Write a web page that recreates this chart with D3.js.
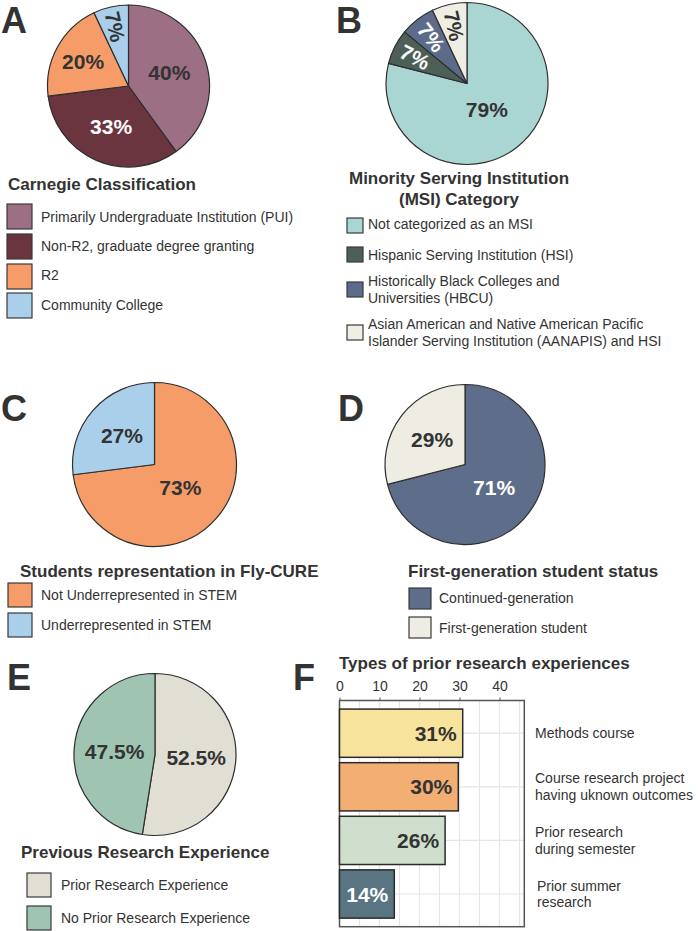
<!DOCTYPE html>
<html>
<head>
<meta charset="utf-8">
<script src="https://cdn.jsdelivr.net/npm/d3@7"></script>
<style>
  html, body { margin: 0; padding: 0; background: #ffffff; }
  svg { display: block; font-family: "Liberation Sans", Arial, Helvetica, sans-serif; }
</style>
</head>
<body>
<svg id="chart" width="699" height="931"></svg>
<script>
// ---------------- DATA ----------------
const carnegieCategories = ["Primarily Undergraduate Institution (PUI)", "Non-R2, graduate degree granting", "R2", "Community College"];
const carnegieValues = [40, 33, 20, 7];
const carnegieLabels = ["40%", "33%", "20%", "7%"];

const msiCategories = [["Not categorized as an MSI"], ["Hispanic Serving Institution (HSI)"], ["Historically Black Colleges and", "Universities (HBCU)"], ["Asian American and Native American Pacific", "Islander Serving Institution (AANAPIS) and HSI"]];
const msiValues = [79, 7, 7, 7];
const msiLabels = ["79%", "7%", "7%", "7%"];

const urmCategories = ["Not Underrepresented in STEM", "Underrepresented in STEM"];
const urmValues = [73, 27];
const urmLabels = ["73%", "27%"];

const firstGenCategories = ["Continued-generation", "First-generation student"];
const firstGenValues = [71, 29];
const firstGenLabels = ["71%", "29%"];

const priorCategories = ["Prior Research Experience", "No Prior Research Experience"];
const priorValues = [52.5, 47.5];
const priorLabels = ["52.5%", "47.5%"];

const typeCategories = [["Methods course"], ["Course research project", "having uknown outcomes"], ["Prior research", "during semester"], ["Prior summer", "research"]];
const typeValues = [30.8, 29.7, 26.4, 13.7];
const typeLabels = ["31%", "30%", "26%", "14%"];
const typeTicks = [0, 10, 20, 30, 40];

// ---------------- STYLE / LAYOUT ----------------
const dark = "#333333";
const svg = d3.select("#chart");

function panelLetter(t, x, y) {
  svg.append("text").attr("x", x).attr("y", y).text(t)
    .attr("font-size", 36).attr("font-weight", "bold").attr("fill", dark);
}

function drawPie(cfg) {
  const g = svg.append("g").attr("transform", `translate(${cfg.cx},${cfg.cy})`);
  const pie = d3.pie().sort(null).value(d => d)(cfg.values);
  const arc = d3.arc().innerRadius(0).outerRadius(cfg.r);
  g.selectAll("path.slice").data(pie).join("path")
    .attr("class", "slice")
    .attr("d", arc)
    .attr("fill", (d, i) => cfg.colors[i])
    .attr("stroke", "#2e2e2e").attr("stroke-width", 1.2).attr("stroke-linejoin", "round");
  pie.forEach((d, i) => {
    const lr = cfg.r * cfg.labelR[i];
    const la = d3.arc().innerRadius(lr).outerRadius(lr);
    const [x, y] = la.centroid(d);
    const mid = (d.startAngle + d.endAngle) / 2 * 180 / Math.PI;
    const rot = cfg.rotate[i] ? mid - 270 : 0;
    g.append("text")
      .attr("transform", `translate(${x},${y}) rotate(${rot})`)
      .attr("text-anchor", "middle").attr("dy", "0.36em")
      .attr("font-size", 21).attr("font-weight", "bold")
      .attr("fill", cfg.labelColors[i])
      .text(cfg.labels[i]);
  });
}

function drawLegend(cfg) {
  const g = svg.append("g");
  cfg.titleLines.forEach((t, j) => {
    g.append("text").attr("x", cfg.titleX).attr("y", cfg.titleY + j * 21)
      .attr("text-anchor", cfg.titleAnchor || "start")
      .attr("font-size", 17).attr("font-weight", "bold").attr("fill", dark).text(t);
  });
  cfg.items.forEach((item, i) => {
    g.append("rect").attr("x", cfg.sx).attr("y", cfg.rowY[i])
      .attr("width", cfg.sw).attr("height", cfg.sh)
      .attr("fill", cfg.colors[i]).attr("stroke", "#3a3a3a").attr("stroke-width", 1.2);
    const lines = Array.isArray(item) ? item : [item];
    lines.forEach((ln, j) => {
      g.append("text").attr("x", cfg.tx).attr("y", cfg.textY[i] + j * 17)
        .attr("font-size", 14).attr("fill", dark).text(ln);
    });
  });
}

// ---------- Panel A ----------
panelLetter("A", 1, 33);
const colorsA = ["#9d6f85", "#6b3540", "#f69c69", "#a9cfeb"];
drawPie({ cx: 128.5, cy: 86, r: 81, values: carnegieValues, labels: carnegieLabels,
  colors: colorsA, labelColors: [dark, "#ffffff", dark, dark],
  labelR: [0.53, 0.54, 0.64, 0.75], rotate: [false, false, false, true] });
drawLegend({ titleLines: ["Carnegie Classification"], titleX: 8, titleY: 190,
  items: carnegieCategories, colors: colorsA, sx: 7, sw: 25, sh: 25,
  rowY: [204, 234, 264, 293], tx: 41, textY: [222, 251, 280, 310] });

// ---------- Panel B ----------
panelLetter("B", 336, 33);
const colorsB = ["#a9d5d3", "#4d5f56", "#5d6b8b", "#efede4"];
drawPie({ cx: 467, cy: 83.5, r: 81, values: msiValues, labels: msiLabels,
  colors: colorsB, labelColors: [dark, "#ffffff", "#ffffff", dark],
  labelR: [0.40, 0.72, 0.72, 0.73], rotate: [false, true, true, true] });
drawLegend({ titleLines: ["Minority Serving Institution", "(MSI) Category"], titleX: 459, titleY: 184, titleAnchor: "middle",
  items: msiCategories, colors: colorsB, sx: 347, sw: 16, sh: 15,
  rowY: [218, 247, 282, 325], tx: 368, textY: [229, 260, 286, 329] });

// ---------- Panel C ----------
panelLetter("C", 1, 421);
const colorsC = ["#f69c69", "#a9cfeb"];
drawPie({ cx: 154.5, cy: 464.5, r: 82, values: urmValues, labels: urmLabels,
  colors: colorsC, labelColors: [dark, dark],
  labelR: [0.42, 0.53], rotate: [false, false] });
drawLegend({ titleLines: ["Students representation in Fly-CURE"], titleX: 20, titleY: 577,
  items: urmCategories, colors: colorsC, sx: 8, sw: 24, sh: 24,
  rowY: [583, 613], tx: 41, textY: [600, 630] });

// ---------- Panel D ----------
panelLetter("D", 338, 421);
const colorsD = ["#5e6e8a", "#eeece3"];
drawPie({ cx: 465, cy: 464.5, r: 80, values: firstGenValues, labels: firstGenLabels,
  colors: colorsD, labelColors: ["#ffffff", dark],
  labelR: [0.46, 0.52], rotate: [false, false] });
drawLegend({ titleLines: ["First-generation student status"], titleX: 408, titleY: 577,
  items: firstGenCategories, colors: colorsD, sx: 409, sw: 22, sh: 21,
  rowY: [588, 617], tx: 439, textY: [603, 633] });

// ---------- Panel E ----------
panelLetter("E", 7, 690);
const colorsE = ["#e1ded4", "#9fc4b2"];
drawPie({ cx: 155, cy: 754.5, r: 81, values: priorValues, labels: priorLabels,
  colors: colorsE, labelColors: [dark, dark],
  labelR: [0.51, 0.50], rotate: [false, false] });
drawLegend({ titleLines: ["Previous Research Experience"], titleX: 21, titleY: 858,
  items: priorCategories, colors: colorsE, sx: 27, sw: 24, sh: 24,
  rowY: [873, 906], tx: 61, textY: [890, 923] });

// ---------- Panel F ----------
panelLetter("F", 293, 690);
const fLeft = 339.5, fRight = 524.3, fTop = 700.5, fBottom = 926.7;
svg.append("text").attr("x", 339).attr("y", 669)
  .attr("font-size", 17).attr("font-weight", "bold").attr("fill", dark)
  .text("Types of prior research experiences");

const x = d3.scaleLinear().domain([0, (fRight - fLeft) / 4]).range([fLeft, fRight]);
const y = d3.scaleBand().domain(d3.range(typeValues.length)).range([fTop, fBottom])
  .paddingInner(0.1).paddingOuter(0.16);

const gf = svg.append("g");
// grid
const gridVals = d3.range(5, 46, 5);
gf.selectAll("line.vg").data(gridVals).join("line").attr("class", "vg")
  .attr("x1", d => x(d)).attr("x2", d => x(d)).attr("y1", fTop).attr("y2", fBottom)
  .attr("stroke", "#e6e6e6").attr("stroke-width", 1.2);
gf.selectAll("line.hg").data(typeValues).join("line").attr("class", "hg")
  .attr("x1", fLeft).attr("x2", fRight)
  .attr("y1", (d, i) => y(i) + y.bandwidth() / 2).attr("y2", (d, i) => y(i) + y.bandwidth() / 2)
  .attr("stroke", "#e6e6e6").attr("stroke-width", 1.2);
// frame
gf.append("rect").attr("x", fLeft).attr("y", fTop).attr("width", fRight - fLeft).attr("height", fBottom - fTop)
  .attr("fill", "none").attr("stroke", "#555555").attr("stroke-width", 1.5);
// axis
const axis = gf.append("g").attr("transform", `translate(0,${fTop})`)
  .call(d3.axisTop(x).tickValues(typeTicks).tickSize(3).tickPadding(7));
axis.select(".domain").remove();
axis.selectAll(".tick line").attr("stroke", "#555555");
axis.selectAll(".tick text").attr("font-size", 14).attr("fill", dark)
  .attr("font-family", "'Liberation Sans', Arial, sans-serif");

const colorsF = ["#f8e39c", "#f2ae73", "#cfdecd", "#587581"];
gf.selectAll("rect.bar").data(typeValues).join("rect").attr("class", "bar")
  .attr("x", fLeft).attr("y", (d, i) => y(i))
  .attr("width", d => x(d) - fLeft).attr("height", y.bandwidth())
  .attr("fill", (d, i) => colorsF[i]).attr("stroke", "#2a2a2a").attr("stroke-width", 1.5);
gf.selectAll("text.bl").data(typeValues).join("text").attr("class", "bl")
  .attr("x", d => x(d) - 6).attr("y", (d, i) => y(i) + y.bandwidth() / 2)
  .attr("dy", "0.36em").attr("text-anchor", "end")
  .attr("font-size", 21).attr("font-weight", "bold")
  .attr("fill", (d, i) => i === 3 ? "#ffffff" : dark)
  .text((d, i) => typeLabels[i]);
// category labels
const catLineGap = [0, 17, 17, 15.5];
typeCategories.forEach((lines, i) => {
  const cy = y(i) + y.bandwidth() / 2;
  const n = lines.length;
  lines.forEach((ln, j) => {
    const off = (j - (n - 1) / 2) * catLineGap[i];
    svg.append("text").attr("x", 535 + (i === 3 ? 2 : 0)).attr("y", cy + off)
      .attr("dy", "0.36em").attr("font-size", 14).attr("fill", dark).text(ln);
  });
});
</script>
</body>
</html>
